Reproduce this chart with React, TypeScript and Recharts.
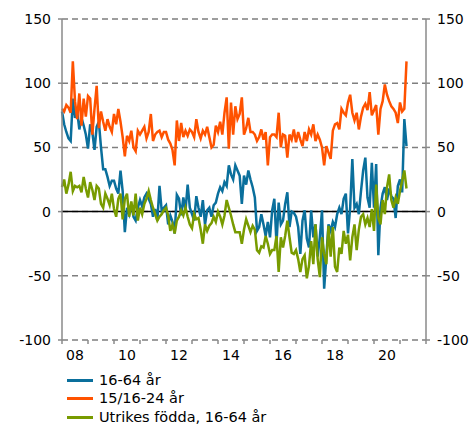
import React from 'react';
import { LineChart, Line, XAxis, YAxis, CartesianGrid, ReferenceLine } from 'recharts';

// monthly values from Jan 2008, one row per year
const total16to64 = [
  78, 68, 62, 57, 55, 88, 73, 78, 64, 73, 67, 60,
  49, 68, 62, 48, 66, 70, 50, 33, 33, 27, 20, 24,
  24, 18, 14, 32, 16, -16, 3, -2, 6, -4, -7, 3,
  9, 4, 11, 14, 10, 6, -4, 2, -7, 20, 1, 3,
  5, -10, -3, -8, -17, 13, 10, -3, 11, 1, 21, 3,
  -2, -7, 12, 3, -4, 9, -10, 1, 3, -4, 5, 7,
  14, 19, 16, 23, 20, 36, 29, 25, 36, 32, 28, 6,
  28, 21, 32, 25, 19, 11, -15, -12, -2, -10, -19, -8,
  -20, 1, 10, -25, 7, -10, -7, 6, 15, -12, 0, -1,
  -4, -12, -33, -7, 1, -21, -28, 1, -20, -10, -35, -20,
  1, -60, -35, -10, -15, -8, -12, -2, 3, -2, 10, 14,
  -17, 3, 41, 3, 6, -2, 16, 32, 42, 11, 3, 38,
  3, 37, -34, 3, 14, 19, 9, 18, 12, 10, -5, 20,
  25, 15, 72, 51,
];

const youth15to24 = [
  80, 78, 83, 81, 77, 117, 86, 72, 92, 67, 88, 74,
  90, 88, 60, 80, 98, 65, 78, 70, 63, 72, 66, 62,
  76, 68, 80, 70, 58, 43, 59, 55, 63, 50, 47, 63,
  60, 63, 66, 57, 62, 76, 55, 60, 62, 63, 58, 62,
  62, 56, 53, 48, 36, 71, 55, 69, 58, 63, 59, 64,
  62, 58, 72, 62, 57, 63, 60, 66, 58, 50, 52, 67,
  62, 70, 60, 77, 89, 49, 85, 60, 82, 72, 76, 89,
  60, 65, 73, 62, 62, 60, 55, 58, 64, 56, 62, 36,
  58, 60, 60, 58, 77, 50, 60, 59, 42, 60, 56, 64,
  54, 62, 56, 51, 62, 55, 64, 60, 68, 55, 60, 56,
  50, 36, 51, 46, 41, 63, 68, 69, 64, 80, 77, 75,
  85, 91, 77, 71, 77, 64, 74, 81, 84, 79, 93, 75,
  79, 83, 60, 80, 86, 99, 91, 86, 82, 80, 77, 69,
  85, 78, 80, 117,
];

const foreignBorn = [
  19, 25, 14, 21, 31, 16, 20, 19, 20, 15, 27, 18,
  11, 23, 17, 9, 20, 18, 6, 3, 14, 10, 5, 14,
  2, -4, 10, 14, -6, 10, 14, -4, 8, -3, 14, -7,
  3, -2, 6, 10, 16, 9, 3, -2, -7, -4, -2, 1,
  3, -3, -15, -10, -17, -7, -4, 1, -3, 3, -4, -10,
  -13, -2, -6, -5, -14, -25, -10, -15, -11, -9, -4, -8,
  0, -4, -10, -3, 9, 3, -3, -10, -16, -16, -16, -25,
  -14, -6, -11, -16, -11, -14, -30, -32, -27, -28, -19, -25,
  -33, -30, -30, -19, -47, -20, -28, -19, -7, -20, -32, -33,
  -30, -37, -47, -37, -34, -52, -42, -23, -41, -10, -37, -51,
  -20, -33, -41, -11, -35, -12, -43, -47, -28, -33, -15, -25,
  -18, -38, -20, -10, -30, -14, -4, -2, -10, -5, -12, 2,
  -15, 21, -5, -10, 9, -2, 19, 29, 9, 3, 11, 6,
  16, 24, 32, 18,
];

const yearTicks = [2008, 2009, 2010, 2011, 2012, 2013, 2014, 2015, 2016, 2017, 2018, 2019, 2020, 2021, 2022];
const labelledYears = [2008, 2010, 2012, 2014, 2016, 2018, 2020];
const yTicks = [-100, -50, 0, 50, 100, 150];

const series = [
  { key: 'total', name: '16-64 år', color: '#0a6f9c', axis: 'left' },
  { key: 'youth', name: '15/16-24 år', color: '#ff5200', axis: 'left' },
  { key: 'foreign', name: 'Utrikes födda, 16-64 år', color: '#789b00', axis: 'right' },
];

const data = total16to64.map((v, i) => ({
  t: 2008 + i / 12,
  total: v,
  youth: youth15to24[i],
  foreign: foreignBorn[i],
}));

const font = '"DejaVu Sans", Verdana, sans-serif';
const axisGray = '#8a8a8a';

const YearTick = (props: any) => {
  const { x, y, payload } = props;
  if (!labelledYears.includes(payload.value)) return <g />;
  return (
    <text x={x + 13} y={y + 16} textAnchor="middle" fontSize={14} fontFamily={font} fill="#000">
      {String(payload.value).slice(2)}
    </text>
  );
};

export default function App() {
  const tickStyle = { fontSize: 14, fontFamily: font, fill: '#000' };
  return (
    <div style={{ position: 'relative', width: 472, height: 425, overflow: 'hidden', fontFamily: font }}>
      {/* the picture runs to the window's right and bottom edges */}
      <style>{'html, body { margin: 0; overflow: hidden; }'}</style>
      <div style={{ position: 'absolute', left: 8, top: 8 }}>
        <LineChart width={464} height={370} data={data} margin={{ top: 11, right: 0, bottom: 8, left: 0 }}>
          <CartesianGrid yAxisId="left" vertical={false} stroke="#7f7f7f" strokeWidth={1.5} strokeDasharray="6 4" />
          <XAxis
            type="number"
            dataKey="t"
            domain={[2008, 2022]}
            ticks={yearTicks}
            interval={0}
            height={30}
            axisLine={false}
            tickSize={4}
            tickMargin={0}
            tickLine={{ stroke: axisGray, strokeWidth: 1.5 }}
            tick={<YearTick />}
          />
          <YAxis
            yAxisId="left"
            domain={[-100, 150]}
            ticks={yTicks}
            width={54}
            tickSize={4}
            tickMargin={7}
            interval={0}
            axisLine={{ stroke: axisGray, strokeWidth: 1.5 }}
            tickLine={{ stroke: axisGray, strokeWidth: 1.5 }}
            tick={tickStyle}
          />
          <YAxis
            yAxisId="right"
            orientation="right"
            domain={[-100, 150]}
            ticks={yTicks}
            width={46}
            tickSize={4}
            tickMargin={7}
            interval={0}
            axisLine={{ stroke: axisGray, strokeWidth: 1.5 }}
            tickLine={{ stroke: axisGray, strokeWidth: 1.5 }}
            tick={tickStyle}
          />
          <ReferenceLine yAxisId="left" y={0} stroke="#000" strokeWidth={1.5} />
          {series.map((s) => (
            <Line
              key={s.key}
              yAxisId={s.axis}
              dataKey={s.key}
              name={s.name}
              stroke={s.color}
              strokeWidth={2.5}
              dot={false}
              isAnimationActive={false}
            />
          ))}
        </LineChart>
      </div>
      <div style={{ position: 'absolute', left: 67, top: 371 }}>
        {series.map((s) => (
          <div key={s.key} style={{ display: 'flex', alignItems: 'center', height: 18.5, fontSize: 14.5, lineHeight: '15px' }}>
            <span style={{ display: 'inline-block', width: 26, height: 3, background: s.color, marginRight: 6 }} />
            <span>{s.name}</span>
          </div>
        ))}
      </div>
    </div>
  );
}
